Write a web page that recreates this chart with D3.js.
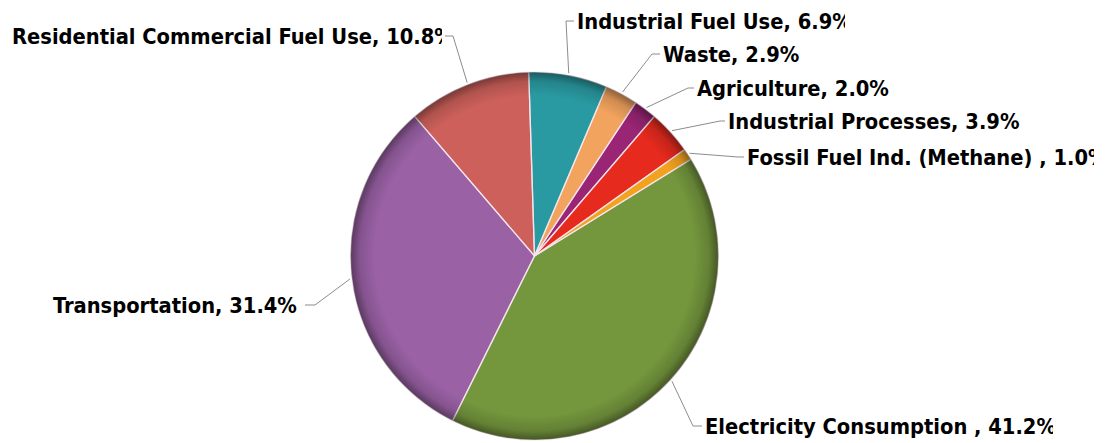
<!DOCTYPE html>
<html>
<head>
<meta charset="utf-8">
<script src="https://cdn.jsdelivr.net/npm/d3@7"></script>
<style>
  html, body { margin: 0; padding: 0; background: #ffffff; }
  svg { display: block; }
</style>
</head>
<body>
<svg id="chart" width="1113" height="443"></svg>
<script>
// ---- data ----
const categories = [
  "Industrial Fuel Use",
  "Waste",
  "Agriculture",
  "Industrial Processes",
  "Fossil Fuel Ind. (Methane) ",
  "Electricity Consumption ",
  "Transportation",
  "Residential Commercial Fuel Use"
];
const values = [6.9, 2.9, 2.0, 3.9, 1.0, 41.2, 31.4, 10.8];

// ---- styles / layout ----
const colors = ["#2a9aa2", "#f2a35e", "#9a2574", "#e72a1e", "#f3a21f", "#74963d", "#9a61a5", "#cd605a"];
// label layout: elbow point of the leader, text start x, right clip edge
const labelLayout = [
  { elbow: [566, 21],  textX: 577, clipX: 845 },
  { elbow: [652, 54],  textX: 663, clipX: 1113 },
  { elbow: [688, 88],  textX: 697, clipX: 1113 },
  { elbow: [720, 121], textX: 728, clipX: 1024 },
  { elbow: [738, 157], textX: 747, clipX: 1094 },
  { elbow: [693, 426], textX: 705, clipX: 1053 },
  { elbow: [315, 305], textX: 53,  clipX: 302 },
  { elbow: [453, 36],  textX: 12,  clipX: 442 }
];

const W = 1113, H = 443;
const cx = 534.5, cy = 256, R = 184;
const startDeg = -1.8;

const svg = d3.select("#chart");
const defs = svg.append("defs");

// font pick: condensed DejaVu if present, otherwise Liberation Sans
function measure(family) {
  const t = svg.append("text").attr("font-family", family).attr("font-weight", "bold")
    .attr("font-size", "40px").text("Residential Commercial 10.8%");
  const w = t.node().getComputedTextLength();
  t.remove();
  return w;
}
const hasCond = Math.abs(measure("'DejaVu Sans Condensed', serif") - measure("serif")) > 1;
const font = hasCond
  ? { family: "'DejaVu Sans Condensed'", size: "21.7px", stroke: 0 }
  : { family: "'Liberation Sans', Arial, sans-serif", size: "23px", stroke: 0.45 };

const data = categories.map((c, i) => ({ cat: c, value: values[i], color: colors[i], layout: labelLayout[i] }));

const pie = d3.pie()
  .sort(null)
  .value(d => d.value)
  .startAngle(startDeg * Math.PI / 180)
  .endAngle((startDeg + 360) * Math.PI / 180);

const arcs = pie(data);
const arc = d3.arc().innerRadius(0).outerRadius(R);
const rimArc = d3.arc().innerRadius(R + 2).outerRadius(R + 2);

// rim shading gradient
const rg = defs.append("radialGradient")
  .attr("id", "rim")
  .attr("gradientUnits", "userSpaceOnUse")
  .attr("cx", cx).attr("cy", cy).attr("r", R);
rg.append("stop").attr("offset", "0.87").attr("stop-color", "#000").attr("stop-opacity", 0);
rg.append("stop").attr("offset", "0.95").attr("stop-color", "#000").attr("stop-opacity", 0.14);
rg.append("stop").attr("offset", "1").attr("stop-color", "#000").attr("stop-opacity", 0.42);

const g = svg.append("g").attr("transform", `translate(${cx},${cy})`);

g.selectAll("path.slice")
  .data(arcs)
  .join("path")
  .attr("class", "slice")
  .attr("d", arc)
  .attr("fill", d => d.data.color);

// rim darkening overlay
svg.append("circle")
  .attr("cx", cx).attr("cy", cy).attr("r", R)
  .attr("fill", "url(#rim)");

// slice separators
g.selectAll("path.sep")
  .data(arcs)
  .join("path")
  .attr("class", "sep")
  .attr("d", arc)
  .attr("fill", "none")
  .attr("stroke", "#f4e6ee")
  .attr("stroke-opacity", 0.85)
  .attr("stroke-width", 1.3)
  .attr("stroke-linejoin", "round");

// leaders
const leaders = svg.append("g");
arcs.forEach((d, i) => {
  const L = d.data.layout;
  const p = rimArc.centroid(d);
  const start = [cx + p[0], cy + p[1]];
  const right = L.textX > L.elbow[0];
  const endX = right ? L.textX - 3 : L.clipX + 3;
  leaders.append("polyline")
    .attr("points", [start, L.elbow, [endX, L.elbow[1]]].map(q => q.join(",")).join(" "))
    .attr("fill", "none")
    .attr("stroke", "#8c8c8c")
    .attr("stroke-width", 1);
});

// labels
const labels = svg.append("g");
arcs.forEach((d, i) => {
  const L = d.data.layout;
  const id = "clip" + i;
  defs.append("clipPath").attr("id", id)
    .append("rect")
    .attr("x", 0).attr("y", 0)
    .attr("width", L.clipX).attr("height", H);
  labels.append("text")
    .attr("clip-path", `url(#${id})`)
    .attr("x", L.textX)
    .attr("y", L.elbow[1] + 8)
    .attr("font-family", font.family)
    .attr("font-weight", "bold")
    .attr("font-size", font.size)
    .attr("fill", "#000")
    .attr("stroke", font.stroke ? "#000" : "none")
    .attr("stroke-width", font.stroke)
    .text(`${d.data.cat}, ${d.data.value.toFixed(1)}%`);
});
</script>
</body>
</html>
